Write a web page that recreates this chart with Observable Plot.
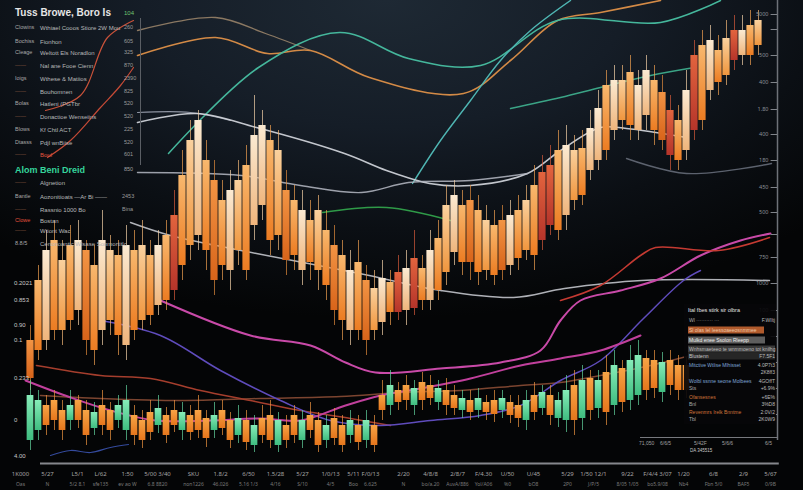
<!DOCTYPE html>
<html><head><meta charset="utf-8">
<script src="https://cdn.jsdelivr.net/npm/d3@7"></script>
<script src="https://cdn.jsdelivr.net/npm/@observablehq/plot@0.6"></script>
<style>
html,body{margin:0;padding:0;background:#050709;overflow:hidden;}
#wrap{position:relative;width:803px;height:490px;overflow:hidden;
 background: radial-gradient(ellipse 75% 65% at 48% 0%, #1e2934 0%, #151d27 40%, #0b0f14 72%, #040506 100%);
 font-family:"Liberation Sans","DejaVu Sans",sans-serif;}
#chart{position:absolute;left:0;top:0;}
.t{position:absolute;white-space:nowrap;font-size:6px;color:#b0b0b0;line-height:1;transform:translateY(-50%);}
</style></head>
<body><div id="wrap"><div id="chart"></div></div>
<script>
// ---------- main candles (price units) ----------
const mainTop = [300,420,480,500,460,490,500,480,450,500, 480,470,490,480,490,470,490,510,550,630,
 700,740,660,620,580,600,620,650,710,730, 700,680,600,580,560,540,560,520,490,470,
 440,456,420,404,424,416,436,444,464,444, 480,504,570,590,570,580,560,540,530,540,
 550,560,580,610,636,650,680,690,680,684, 724,764,810,820,820,836,810,840,820,796,
 760,740,800,870,890,900,880,904,920,920, 930,940];
const mainBot = [224,280,300,320,320,340,360,300,280,320, 340,310,290,320,340,350,370,380,400,450,
 490,510,480,420,450,440,480,440,530,570, 500,510,460,470,440,456,440,410,360,340,
 320,320,300,320,336,356,356,360,364,380, 380,400,436,476,456,456,436,440,430,440,
 450,464,480,470,500,530,520,550,580,590, 640,660,680,720,740,730,720,750,720,700,
 670,660,680,720,740,800,816,830,860,870, 870,890];
const mainHi = [330,450,520,540,500,530,540,500,490,560, 510,500,530,520,540,500,520,540,600,680,
 740,760,700,660,620,640,660,690,790,760, 730,720,640,610,600,580,590,560,530,500,
 480,500,450,440,460,440,470,480,520,470, 520,540,610,620,600,610,590,570,560,570,
 580,590,610,650,670,690,720,730,710,720, 760,800,840,850,850,870,840,870,850,830,
 790,770,840,900,920,930,910,940,950,950, 960,960];
const mainLo = [200,260,280,300,290,320,330,270,250,290, 310,270,260,300,320,330,350,360,380,420,
 460,480,440,390,420,400,450,420,500,540, 470,480,430,440,410,420,400,380,330,300,
 290,300,270,300,310,330,340,330,350,360, 360,380,410,450,430,420,410,420,410,420,
 430,440,460,440,480,510,500,520,560,570, 620,640,660,700,720,700,700,720,690,680,
 640,640,660,700,720,780,790,810,840,850, 850,870];
const mainKind = "docopocdocpocopocoropcodocpoccopdocopodocodpcorcrocopcodopodcoporrocpoccocpoccodrocrocoprcop";

// ---------- lower candles ----------
const lowTop = [190,180,170,180,160,170,180,160,156,170, 160,170,180,150,140,156,164,150,160,156,
 150,160,144,150,160,140,144,140,130,144, 150,140,130,150,140,150,140,130,144,130,
 140,130,140,130,190,210,200,210,204,216, 210,204,200,190,184,180,184,176,180,184,
 176,170,180,190,196,190,180,200,210,220, 224,220,236,250,244,260,270,264,260,256,
 260,250,250];
const lowBot = [100,120,130,140,120,140,140,110,124,130, 120,140,120,110,100,116,130,110,130,120,
 116,120,104,120,124,100,110,96,90,110, 100,90,100,110,100,120,90,100,104,90,
 110,96,100,90,160,170,176,180,170,180, 184,176,170,164,160,156,160,156,152,160,
 150,144,140,156,164,150,144,140,140,144, 160,164,156,170,176,180,190,200,204,196,
 210,200,200];
const lowHi = [220,200,190,200,180,200,190,180,176,200, 176,190,210,170,160,180,190,166,180,176,
 170,190,160,176,180,156,170,160,150,170, 180,156,150,170,160,176,156,150,164,150,
 160,150,160,150,220,240,216,230,220,236, 230,220,224,210,200,200,204,190,200,200,
 190,190,200,216,210,210,196,230,240,250, 240,240,270,280,260,290,300,280,280,276,
 280,270,266];
const lowLo = [80,100,110,120,100,120,124,90,110,110, 100,124,100,90,84,100,114,94,116,100,
 100,104,86,104,110,84,94,80,76,94, 84,76,84,94,84,104,76,84,90,76,
 94,80,84,76,140,150,160,160,150,160, 170,160,150,150,144,140,144,140,136,144,
 134,126,120,140,150,130,126,116,110,120, 140,144,130,150,156,160,170,180,184,176,
 190,180,184];
const lowKind = "ggooogoogooggooogoogooogoogogoogoogoogoogogoogoogoogoogogoogoogogoggogogogoggoogooo";

// ---------- indicator lines: [day, value] ----------
const beigeLine = [[13.375,920],[23.125,946],[29.375,914],[35,880]];
const orangeLine = [[13.375,870],[23.125,906],[29.625,874],[35,880],[42.375,826],[54.125,794],[60,860],[65.875,940],[71.25,956],[78.75,980]];
const tealLine = [[17.25,674],[28.5,846],[38.625,916],[47.25,864],[56.25,850],[65.875,940],[78.75,936],[86.25,980]];
const cyanLine = [[47.75,614],[51.25,700],[55,780],[58.75,860],[62.5,920],[67.5,980]];
const greenRight = [[60,764],[66.25,786],[71.25,806],[77.5,830],[83,846]];
const greenMid = [[36.5,556],[44.5,566],[52.5,540]];
const greyA = [[13.375,736],[20.75,754],[28.25,726],[39.25,674],[44.5,640],[49.875,614],[55,610],[62.125,634],[66.25,680],[71.25,726],[74.5,724],[82,706]];
const greyB = [[13.375,756],[20,756],[25,740]];
const greyC = [[13.375,636],[26.375,630],[33.75,610],[41.375,596],[47.25,616],[55,620],[62.125,634]];
const greyDark = [[74.5,664],[82,634],[92.625,654]];
const greyLow = [[12.5,536],[17.5,510],[28.25,474],[41.125,434],[51.25,400],[60.375,386],[66.75,404],[76.375,420],[92.375,420]];
const pinkLine = [[16.25,380],[27.5,310],[35,290],[39.375,256],[43.125,236],[51.25,244],[58.75,256],[63.75,280],[66.25,340],[68.75,380],[73.75,400],[78.75,424],[83.75,470],[88.75,500],[92.5,514]];
const magentaLine = [[-0.625,220],[5,186],[10,160],[15.625,140],[22.5,140],[28.75,144],[33.75,140],[39.375,170],[43.75,190],[48.75,204],[55,224],[61.25,250],[66.25,264],[71.25,280],[76.25,310]];
const violetLine = [[8.75,340],[16.25,310],[23.75,240],[31.25,180],[37.5,140],[43.75,130],[50,140],[56.25,150],[61.25,170],[66.25,220],[71.25,260],[76.625,344],[81.625,420],[83.75,440]];
const redLine = [[66.25,380],[71.25,410],[76.25,470],[78.125,486],[86,480],[92.375,506]];
const darkRedLine = [[0.75,250],[8.75,230],[15,224],[21.25,200],[27.5,180],[33.75,160],[40,144],[45,130]];
const brownLine = [[1.25,190],[8.75,184],[18.75,180],[28.75,184],[38.75,188],[46.25,196],[53.75,200],[61.25,210],[66.25,216],[71.25,230],[77.5,250],[82.5,270]];
const navyLine = [[2.5,70],[5,80],[7.5,76],[10,86],[12.25,92]];
const legendLine1 = [[1.875,760],[6.25,790],[9.625,906],[12.875,940]];
const legendLine2 = [[2.125,666],[5,700],[8.75,766],[11.25,810],[12.875,846]];

// ---------- axes labels ----------
const rightTicks = [952,922,870,816,762,712,660,606,556,512,466,414,360,308,256,204,152,106];
const rightLabels = ["5000","","500","400","1.80","400","180","450","500","","750","1000","100","","","","",""];
const bottomDays = [-1.25,2.125,5.875,8.75,12.125,15.875,20.375,23.75,27.25,30.625,34,37.5,40.375,42.5,46.625,50,53.375,56.625,59.625,62.875,67.125,70.375,74.625,78.375,81.625,85.375,89.125,92.5];
const bottomRow1 = ["1K000","5/27","L5/1","L/62","1:50","5/00 3/40","SKU","1.8/2","6/50","1.5/28","5/27","1/0/13","5/11","F/0/13","2/20","4/8/8","2/8/7","F/4.30","U/50","U/45","5/29","1/50 12/1","9/22","F/4/4 3/07","1/20","6/8","2/9","5/67"];
const bottomRow2 = ["Oas","N","5/2 8.1","sfe135","ev ao W","6.8 8820","non1226","46.026","5.16 1/3","4/16","S/10","4/5","Boo","6.625","N","bo/a.20","AuvA/886","Yol/A06","%0","bO8","2P0","J/P/5","8/05 1/05","bo5.9/08","Nb4","Fbn 5/0","BAF5","0/9B"];

// ---------- legend texts ----------
const legendTitle = "Tuss Browe, Boro Is";
const legendTitleValue = "104";
const legendShort = ["Clowins","Bochiss","Cleage","——","Ioigs","——","Bolas","——","Blows","Dtasss","——"];
const legendLong = ["Wthiael Cooos Stiore 2W Mou","Fionhon","Weltott Els Noradlon","Nal ane Fooe Cienn","Wthese & Matiios","Bouhomnen","Hatleni (PGTbr","Donactioe Wenseiins","Kf Chtl ACT","Pdjl wnBiise","Boul"];
const legendVals = ["260","605","325","870","2390","825","520","520","225","520","601"];
const legend2Title = "Alom  Beni Dreid";
const legend2Value = "850";
const legend2Short = ["——","Bantle","——","Clowe","——","8.8/5"];
const legend2Long = ["Algnetion","Aozonitioats —Ar Bi ——","Rassnio 1000 Bo","Bostan","Wtiont Wac","Cenonoantic Wlsase Sonmortitlc"];
const legend2Vals = ["","2453","Bina","","",""];
const leftLabels = ["0.2021","0.853","0.90","0.1","0.233","0","4.00"];
const panelTitle = "Ital fbes stirk sir olbra";
const panelRows = ["Wl  ··········  ···","Sl olas lel leessoaeeosnmmee","Mulkd enee Ssolon Rleepp","Wnhsmaeteeo te wnmmoeno tot knilhg","Blustenn","Mitctive Wtlise Mlhisset","","Wolbl ssnne seone Molbees","Sts","Ofansesnes","Bnl","Revenmrs Irelk Bnntme","Tbl"];
const panelVals = ["F.Wlltj","","","","F7.5F1","4.0P7t3","2K8ff3","4GOffT","+6.9%","+6E%","3%D8","2:0V/2","2K0W9"];
const subAxisLabels = ["71,050","6/6/5","5/42F","5/6/6","6/5"];
const subAxisNote = "DA 345515";

// ---------- build ----------
const xDomain = [-3.75, 93.375], yDomain = [54, 980];
const mainData = mainTop.map((t,i)=>({day:i, top:t, bot:mainBot[i], hi:mainHi[i], lo:mainLo[i], kind:mainKind[i]}));
const lowData = lowTop.map((t,i)=>({day:i, top:t, bot:lowBot[i], hi:lowHi[i], lo:lowLo[i], kind:lowKind[i]}));

const wickColor = {o:"#f0a050", d:"#e08a3c", c:"#f4d2a8", p:"#f3b878", r:"#d45a3a", g:"#63d4a0", O:"#ee9440"};
const L = (data, stroke, w=1.4, op=1) => Plot.line(data, {x:d=>d[0], y:d=>d[1], stroke, strokeWidth:w, strokeOpacity:op, curve:"catmull-rom"});

const marks = [
  L(beigeLine,"#a88f70",1.3,0.8),
  L(orangeLine,"#d38a46",1.6),
  L(tealLine,"#45b79c",1.5),
  L(cyanLine,"#4fb6b3",1.4),
  L(greenRight,"#3ba486",1.4),
  L(greenMid,"#2f9a48",1.4),
  L(greyB,"#8c92a0",1.2),
  L(greyA,"#d6d9e0",1.6,0.9),
  L(greyC,"#b6bac4",1.4,0.85),
  L(greyDark,"#5c626e",1.4),
  L(greyLow,"#c2c4cb",1.5,0.9),
  L(legendLine1,"#c9523a",1.2),
  L(legendLine2,"#c54a36",1.2),
  L(brownLine,"#7c4530",1.5),
  L(darkRedLine,"#a53e2d",1.6),
  L(violetLine,"#5f4cbc",1.5),
  L(magentaLine,"#c1409c",2),
  L(pinkLine,"#c94aa8",2),
  L(redLine,"#c43a32",1.6),
  L(navyLine,"#344a9c",1.2)
];
for (const k of ["o","d","c","p","r"]) {
  const sub = mainData.filter(d=>d.kind===k);
  marks.push(Plot.ruleX(sub,{x:"day", y1:"lo", y2:"hi", stroke:wickColor[k], strokeWidth:1, strokeOpacity:0.7}));
  marks.push(Plot.rect(sub,{x1:d=>d.day-0.45, x2:d=>d.day+0.45, y1:"bot", y2:"top", fill:`url(#g_${k})`}));
}
for (const k of ["g","o"]) {
  const sub = lowData.filter(d=>d.kind===k);
  marks.push(Plot.ruleX(sub,{x:"day", y1:"lo", y2:"hi", stroke:k==="g"?wickColor.g:wickColor.O, strokeWidth:1, strokeOpacity:0.7}));
  marks.push(Plot.rect(sub,{x1:d=>d.day-0.42, x2:d=>d.day+0.42, y1:"bot", y2:"top", fill:`url(#l_${k})`}));
}
marks.push(
  Plot.ruleX([xDomain[1]], {y1:100, y2:980, stroke:"#6e7278", strokeWidth:1.5}),
  Plot.ruleY(rightTicks, {y:d=>d, x1:xDomain[1]-0.8, x2:xDomain[1], stroke:"#80848a", strokeWidth:1}),
  Plot.text(rightTicks, {y:d=>d, frameAnchor:"right", dx:-9, textAnchor:"end", text:(d,i)=>rightLabels[i], fontSize:5.5, fill:"#8d9198"}),
  Plot.ruleY([yDomain[0]], {x1:1.25, x2:93.6, stroke:"#85878c", strokeWidth:2}),
  Plot.text(bottomDays, {x:d=>d, frameAnchor:"bottom", dy:12, text:(d,i)=>bottomRow1[i], fontSize:6, fill:"#a4a4a4"}),
  Plot.text(bottomDays, {x:d=>d, frameAnchor:"bottom", dy:22, text:(d,i)=>bottomRow2[i], fontSize:5, fill:"#7a7a7a"})
);

const chart = Plot.plot({
  width:803, height:490, marginTop:0, marginLeft:0, marginRight:26, marginBottom:27,
  x:{domain:xDomain, axis:null}, y:{domain:yDomain, axis:null},
  style:{background:"transparent", overflow:"visible"},
  marks
});
const grads = {
  g_o:["#f8b86e","#ec7c22"], g_d:["#f29444","#d8641a"], g_c:["#fbead2","#efb57c"],
  g_p:["#fad19e","#f0963e"], g_r:["#e2643e","#b5342a"],
  l_g:["#86ecb8","#3fbd80"], l_o:["#f7a446","#e6761c"]
};
let defs = "";
for (const [id,[a,b]] of Object.entries(grads))
  defs += `<linearGradient id="${id}" x1="0" y1="0" x2="0" y2="1"><stop offset="0" stop-color="${a}"/><stop offset="1" stop-color="${b}"/></linearGradient>`;
d3.select(chart).insert("defs", ":first-child").html(defs);
document.getElementById("chart").appendChild(chart);

// ---------- HTML overlays ----------
const wrap = document.getElementById("wrap");
function txt(s, x, y, css={}) {
  const e = document.createElement("div"); e.className="t"; e.textContent=s;
  e.style.left = x+"px"; e.style.top = y+"px";
  Object.assign(e.style, css); wrap.appendChild(e); return e;
}
txt(legendTitle, 15, 13, {fontSize:"10px", fontWeight:"bold", color:"#e6e6e6"});
txt(legendTitleValue, 124, 13, {color:"#6fc46f", fontSize:"6px"});
const rowsY = [28,42,53,66,79,92,104,117,130,143,155];
rowsY.forEach((y,i)=>{
  const dash = legendShort[i]==="——";
  txt(legendShort[i], 15, y, {color: dash?"#8a5a40":"#a8a8a8", fontSize:"5.5px"});
  txt(legendLong[i], 40, y, {color: i===10?"#e0553e":"#b8b8b8", fontSize:"6px"});
  txt(legendVals[i], 124, y, {color:"#9a9a9a", fontSize:"5.5px"});
});
const vline = document.createElement("div");
Object.assign(vline.style,{position:"absolute",left:"140px",top:"18px",width:"1px",height:"147px",background:"#5a5e64"});
wrap.appendChild(vline);
txt(legend2Title, 15, 170, {fontSize:"9px", fontWeight:"bold", color:"#35d49b"});
txt(legend2Value, 124, 170, {color:"#a0a0a0", fontSize:"5.5px"});
const rows2Y = [183,197,210,221,231,244];
rows2Y.forEach((y,i)=>{
  txt(legend2Short[i], 15, y, {color: legend2Short[i]==="Clowe"?"#e0503c":(legend2Short[i]==="——"?"#8a5a40":"#a8a8a8"), fontSize:"5.5px"});
  txt(legend2Long[i], 40, y, {color:"#b8b8b8", fontSize:"6px"});
  if (legend2Vals[i]) txt(legend2Vals[i], 122, y, {color:"#9a9a9a", fontSize:"5.5px"});
});
[283,300,325,340,378,420,456].forEach((y,i)=>txt(leftLabels[i], 14, y, {color:"#c8c8c8", fontSize:"6px"}));

// right info panel
const panel = document.createElement("div");
Object.assign(panel.style,{position:"absolute",left:"684px",top:"304px",width:"92px",height:"120px",background:"rgba(6,7,9,0.92)"});
wrap.appendChild(panel);
txt(panelTitle, 688, 311, {color:"#e2e2e2", fontSize:"5.5px"});
const pY = [320,330,340,349,356,365,372,381,388,397,404,412,419];
const pStyle = [
  {}, {background:"#b05a2c", color:"#f0c8a8", width:"74px"}, {background:"#5e5e5e", color:"#eee", width:"75px"},
  {background:"#3a3a3a", color:"#bbb", width:"85px"}, {background:"#262626", color:"#ccc", width:"85px"},
  {color:"#7fa6d6"}, {}, {color:"#7fa6d6"}, {}, {color:"#d0743a"}, {}, {color:"#d0743a"}, {}
];
pY.forEach((y,i)=>{
  if (panelRows[i]) txt(panelRows[i], 688, y, Object.assign({fontSize:"5px", color:"#aaa", padding:"1px 1px"}, pStyle[i]));
  if (panelVals[i]) { const e = txt(panelVals[i], 0, y, {fontSize:"5px", color:"#bbb"}); e.style.left="auto"; e.style.right=(803-775)+"px"; }
});
const sub = document.createElement("div");
Object.assign(sub.style,{position:"absolute",left:"640px",top:"437px",width:"138px",height:"1px",background:"#77797e"});
wrap.appendChild(sub);
[647,668,702,730,773].forEach((x,i)=>txt(subAxisLabels[i], x-8, 443, {fontSize:"5px", color:"#a0a0a0"}));
txt(subAxisNote, 690, 451, {fontSize:"4.5px", color:"#c8c8c8"});
</script></body></html>
